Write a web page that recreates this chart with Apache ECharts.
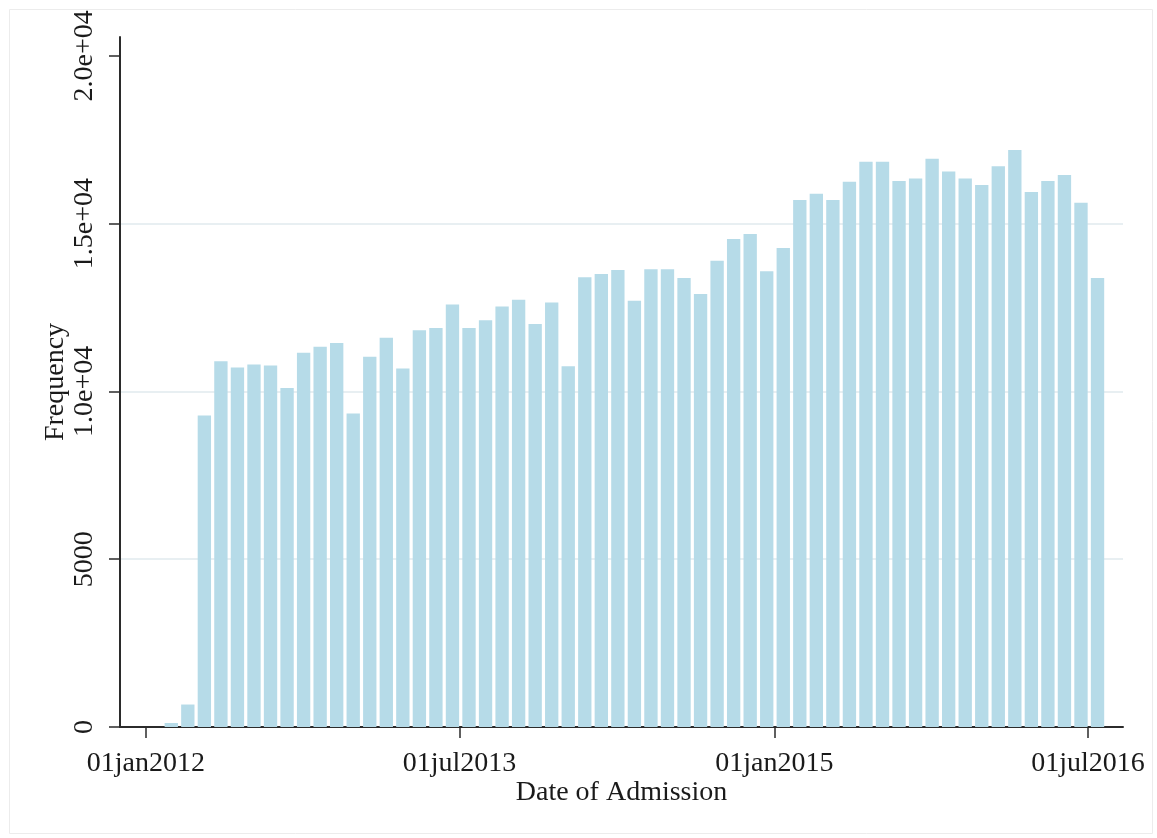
<!DOCTYPE html>
<html>
<head>
<meta charset="utf-8">
<script src="https://cdn.jsdelivr.net/npm/echarts@6/dist/echarts.min.js"></script>
<style>
	html, body { margin: 0; padding: 0; background: #fff; }
	#myChart { width: 1157px; height: 838px; }
</style>
</head>
<body>
<div id="myChart"></div>
<script type="text/javascript">
// histogram of admissions, 57 equal bins from 31jan2012 to 01aug2016
var binFirstDay = Date.UTC(2012, 0, 31)
var binLastDay = Date.UTC(2016, 7, 1)
var counts = [120, 670, 9280, 10900, 10710, 10800, 10770, 10100, 11150, 11330,
	11440, 9340, 11030, 11600, 10680, 11820, 11890, 12590, 11890, 12120,
	12530, 12730, 12010, 12650, 10750, 13400, 13500, 13620, 12700, 13640,
	13640, 13380, 12900, 13890, 14540, 14690, 13580, 14270, 15700, 15890,
	15700, 16250, 16840, 16840, 16270, 16340, 16930, 16550, 16340, 16150,
	16710, 17190, 15940, 16270, 16450, 15620, 13380]

var xTickValues = [Date.UTC(2012, 0, 1), Date.UTC(2013, 6, 1), Date.UTC(2015, 0, 1), Date.UTC(2016, 6, 1)]
var xTickLabels = ['01jan2012', '01jul2013', '01jan2015', '01jul2016']
var yTickValues = [0, 5000, 10000, 15000, 20000]
var yTickLabels = ['0', '5000', '1.0e+04', '1.5e+04', '2.0e+04']

var binWidth = (binLastDay - binFirstDay) / counts.length
var bars = []
for (var i = 0; i < counts.length; i++) {
	bars.push([binFirstDay + i * binWidth, binFirstDay + (i + 1) * binWidth, counts[i]])
}

var fontName = '"Liberation Serif", "DejaVu Serif", serif'
var axisColor = '#2b2b2b'

let myChart = echarts.init(document.getElementById('myChart'))
myChart.setOption({
	backgroundColor: '#ffffff',
	animation: false,
	graphic: [{
		type: 'rect',
		left: 7,
		top: 7,
		shape: { width: 1143, height: 824 },
		style: { fill: 'none', stroke: '#ececec', lineWidth: 1 }
	}],
	grid: { left: 120, right: 34, top: 37, bottom: 111 },
	xAxis: {
		type: 'value',
		min: Date.UTC(2011, 10, 17),
		max: Date.UTC(2016, 7, 31),
		name: 'Date of Admission',
		nameLocation: 'middle',
		nameGap: 52,
		nameMoveOverlap: false,
		nameTextStyle: { fontFamily: fontName, fontSize: 28, color: '#1a1a1a' },
		axisLine: { lineStyle: { color: axisColor, width: 2 } },
		axisTick: { show: true, length: 11, customValues: xTickValues, lineStyle: { color: axisColor, width: 1.5 } },
		axisLabel: {
			customValues: xTickValues,
			margin: 23,
			fontFamily: fontName,
			fontSize: 28,
			color: '#1a1a1a',
			formatter: function (v) {
				let k = xTickValues.indexOf(v)
				return k >= 0 ? xTickLabels[k] : ''
			}
		},
		splitLine: { show: false }
	},
	yAxis: {
		type: 'value',
		min: 0,
		max: 20560,
		interval: 5000,
		name: 'Frequency',
		nameLocation: 'middle',
		nameGap: 50,
		nameMoveOverlap: false,
		nameTextStyle: { fontFamily: fontName, fontSize: 28, color: '#1a1a1a' },
		axisLine: { show: true, lineStyle: { color: axisColor, width: 2 } },
		axisTick: { show: true, length: 11, customValues: yTickValues, lineStyle: { color: axisColor, width: 1.5 } },
		axisLabel: {
			customValues: yTickValues,
			rotate: 90,
			margin: 21,
			fontFamily: fontName,
			fontSize: 28,
			color: '#1a1a1a',
			formatter: function (v) {
				let k = yTickValues.indexOf(v)
				return k >= 0 ? yTickLabels[k] : ''
			}
		},
		splitLine: { show: true, showMinLine: false, showMaxLine: false, lineStyle: { color: '#e8eff2', width: 2 } }
	},
	series: [{
		type: 'custom',
		encode: { x: [0, 1], y: 2 },
		data: bars,
		renderItem: function (params, api) {
			let topLeft = api.coord([api.value(0), api.value(2)])
			let bottomRight = api.coord([api.value(1), 0])
			return {
				type: 'rect',
				shape: {
					x: topLeft[0] + 1.6,
					y: topLeft[1],
					width: bottomRight[0] - topLeft[0] - 3.2,
					height: bottomRight[1] - topLeft[1]
				},
				style: { fill: '#b6dbe8' }
			}
		}
	}]
})
</script>
</body>
</html>
